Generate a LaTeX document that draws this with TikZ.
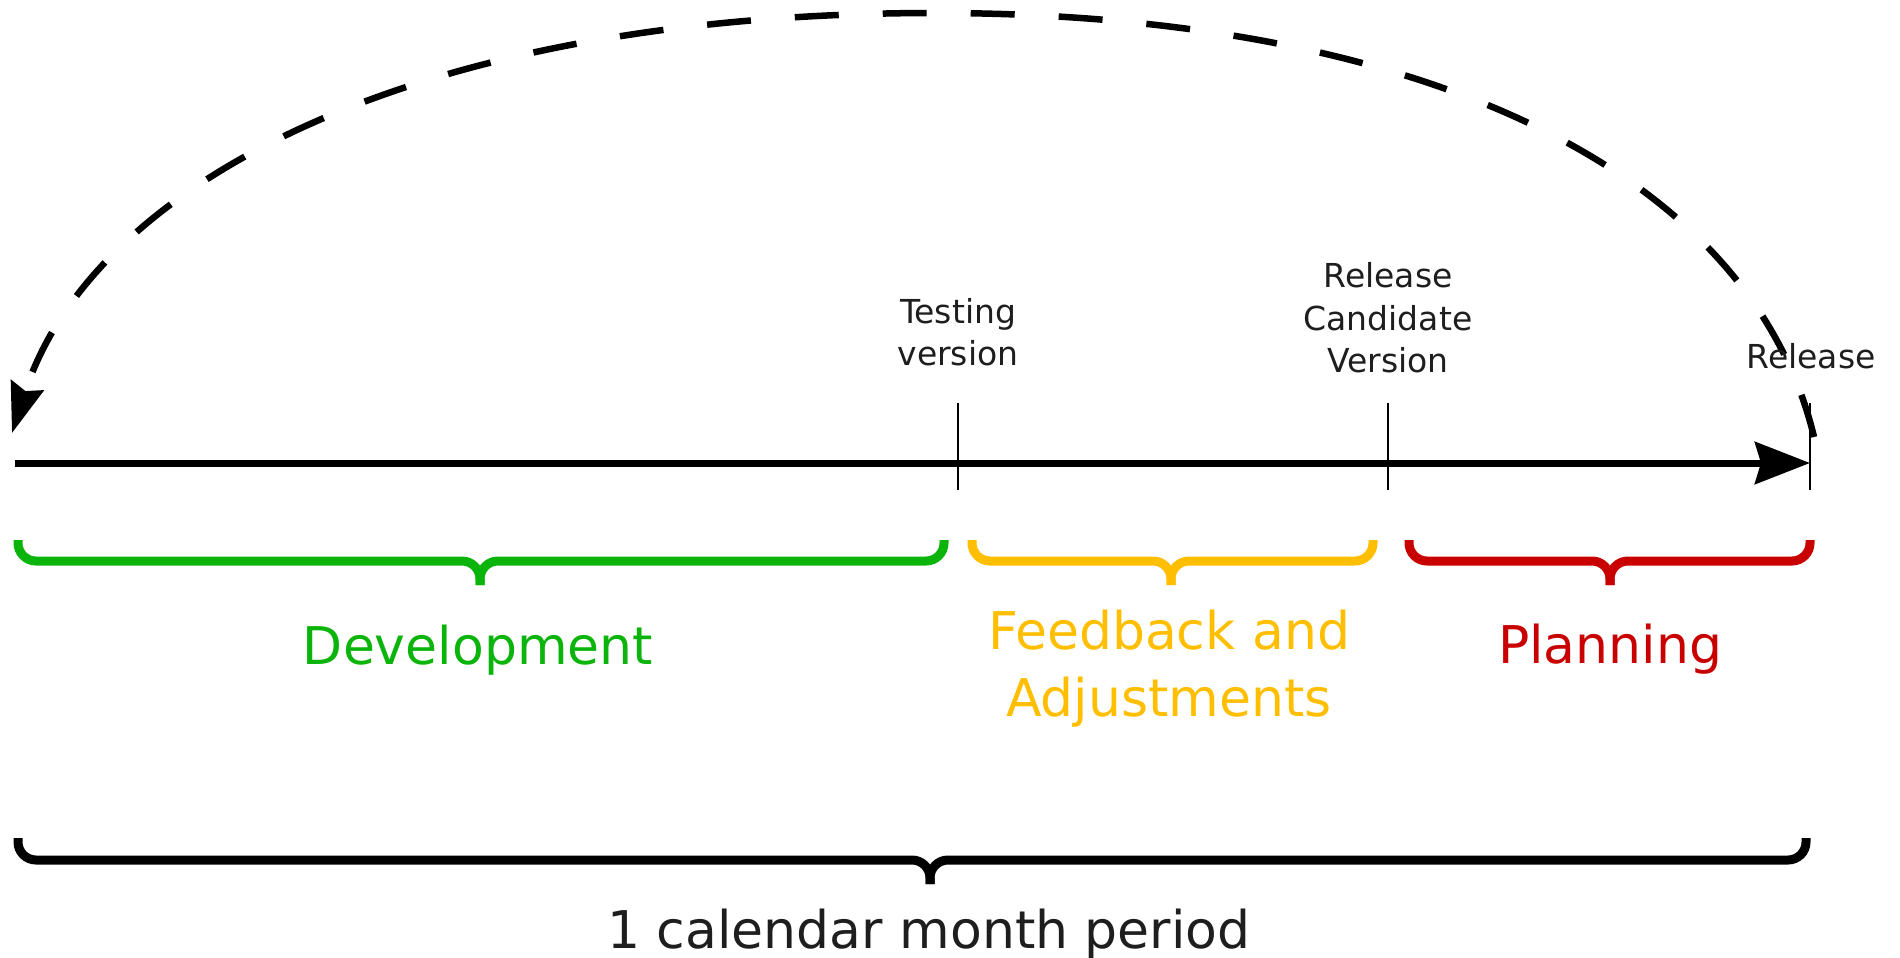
\documentclass[tikz,border=0pt]{standalone}
\usepackage{fontspec}
\setmainfont{DejaVu Sans}
\usetikzlibrary{arrows.meta}
\definecolor{devgreen}{RGB}{10,180,10}
\definecolor{fbyellow}{RGB}{255,191,0}
\definecolor{planred}{RGB}{200,0,0}
\definecolor{txtgray}{RGB}{30,30,30}
\tikzset{
  axisline/.style={line width=7pt,-{Stealth[length=55pt,width=42pt,inset=6pt]}},
  tickline/.style={line width=2.5pt},
  cycleline/.style={line width=6.5pt,dash pattern=on 44pt off 44pt,-{Stealth[length=50pt,width=34pt,inset=6pt]}},
  bracestyle/.style={line width=9pt,rounded corners=18pt},
  smalllbl/.style={font=\fontsize{33}{40}\selectfont,text=txtgray,anchor=base,inner sep=0pt},
  biglbl/.style={font=\fontsize{52}{62}\selectfont,anchor=base,inner sep=0pt},
}
\newcommand{\curlybrace}[7]{% #1 colour, #2 x left, #3 x tip, #4 x right, #5 y top, #6 y bar, #7 y tip
  \draw[bracestyle,#1] (#2,#5) -- (#2,#6) -- (#3,#6) -- (#3,#7);
  \draw[bracestyle,#1] (#4,#5) -- (#4,#6) -- (#3,#6) -- (#3,#7);
}
\begin{document}
\begin{tikzpicture}[x=1pt,y=-1pt]
\useasboundingbox (0,0) rectangle (1900,958);
% timeline
\coordinate (axL) at (15,463);
\coordinate (axR) at (1810,463);
\draw[axisline] (axL) -- (axR);
% ticks
\coordinate (t1a) at (958,403); \coordinate (t1b) at (958,490);
\coordinate (t2a) at (1388,403); \coordinate (t2b) at (1388,490);
\coordinate (t3a) at (1810,403); \coordinate (t3b) at (1810,490);
\draw[tickline] (t1a) -- (t1b);
\draw[tickline] (t2a) -- (t2b);
\draw[tickline] (t3a) -- (t3b);
% dashed cycle arc
\coordinate (arcR) at (1814,437);
\coordinate (arcT) at (935,13);
\coordinate (arcL) at (12,433);
\draw[cycleline] (arcR) .. controls (1750,170) and (1420,13) .. (arcT)
   .. controls (400,13) and (90,190) .. (arcL);
% milestone labels
\node[smalllbl] (testing1) at (958,323) {Testing};
\node[smalllbl] (testing2) at (958,365) {version};
\node[smalllbl] (rc1) at (1388,287) {Release};
\node[smalllbl] (rc2) at (1388,330) {Candidate};
\node[smalllbl] (rc3) at (1388,372) {Version};
\node[smalllbl] (release) at (1811,368) {Release};
% phase braces
\curlybrace{devgreen}{18}{480}{944}{540}{561}{585}
\curlybrace{fbyellow}{972}{1171}{1373}{540}{561}{585}
\curlybrace{planred}{1409}{1610}{1810}{540}{561}{585}
\curlybrace{black}{18}{930}{1806}{838}{860}{884}
% phase labels
\node[biglbl,text=devgreen] (dev) at (478,664) {Development};
\node[biglbl,text=fbyellow] (fb1) at (1169,649) {Feedback and};
\node[biglbl,text=fbyellow] (fb2) at (1169,716) {Adjustments};
\node[biglbl,text=planred] (plan) at (1610,663) {Planning};
\node[biglbl,text=txtgray] (month) at (929,948) {1 calendar month period};
\end{tikzpicture}
\end{document}
